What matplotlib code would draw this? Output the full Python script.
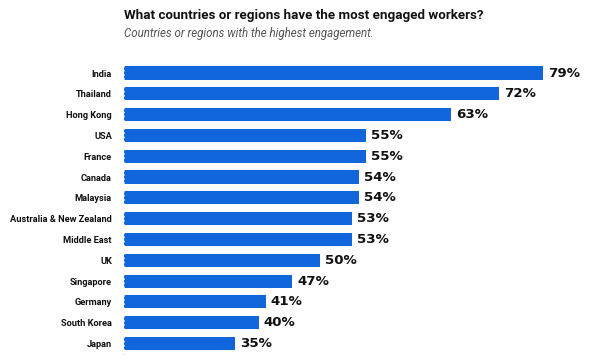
import matplotlib
matplotlib.use("Agg")
import matplotlib.pyplot as plt

categories = ["India", "Thailand", "Hong Kong", "USA", "France", "Canada", "Malaysia",
              "Australia & New Zealand", "Middle East", "UK", "Singapore", "Germany",
              "South Korea", "Japan"]
# values printed on the bars
values = [79, 72, 63, 55, 55, 54, 54, 53, 53, 50, 47, 41, 40, 35]
# bar lengths as drawn in the reference (same units as India's bar = 79)
bar_lengths = [79, 70.7, 61.7, 45.6, 45.6, 44.3, 44.3, 43.0, 43.0, 37.0, 31.8, 26.8, 25.5, 21.0]
value_labels = [f"{v}%" for v in values]

title = "What countries or regions have the most engaged workers?"
subtitle = "Countries or regions with the highest engagement."

W, H = 600, 360
fig = plt.figure(figsize=(6, 3.6), dpi=100)
left_px, right_px = 123.5, 590
top_px, bot_px = 62.6, 353.9
ax = fig.add_axes([left_px / W, 1 - bot_px / H, (right_px - left_px) / W, (bot_px - top_px) / H])

px_per_unit = 419.5 / 79
ax.set_xlim(0, (right_px - left_px) / px_per_unit)
ypos = list(range(len(categories)))
ax.barh(ypos, bar_lengths, height=0.63, color="#1266db", edgecolor="none")
ax.set_ylim(len(categories) - 0.5, -0.5)

for y, L, lab in zip(ypos, bar_lengths, value_labels):
    ax.annotate(lab, xy=(L, y), xytext=(3.5, 0), textcoords="offset points",
                va="center", ha="left", fontsize=9.6, fontweight="bold", color="#111111",
                family="DejaVu Sans")

ax.set_yticks(ypos)
ax.set_yticklabels(categories, fontsize=6.7, fontweight="bold", color="#111111", family="Roboto")
ax.tick_params(axis="y", length=0, pad=8.3)
ax.set_xticks([])
for s in ["top", "right", "bottom"]:
    ax.spines[s].set_visible(False)
ax.spines["left"].set_color("#e6e6e6")
ax.spines["left"].set_linewidth(0.6)
ax.spines["left"].set_linestyle((0, (1, 4)))

fig.text(left_px / W, 1 - 18.5 / H, title, fontsize=9.6, fontweight="bold",
         color="#111111", va="baseline", ha="left", family="Roboto")
fig.text(left_px / W, 1 - 36.7 / H, subtitle, fontsize=8.3, style="italic",
         color="#555555", va="baseline", ha="left", family="Roboto")

fig.savefig("out.png", dpi=100, facecolor="white")
